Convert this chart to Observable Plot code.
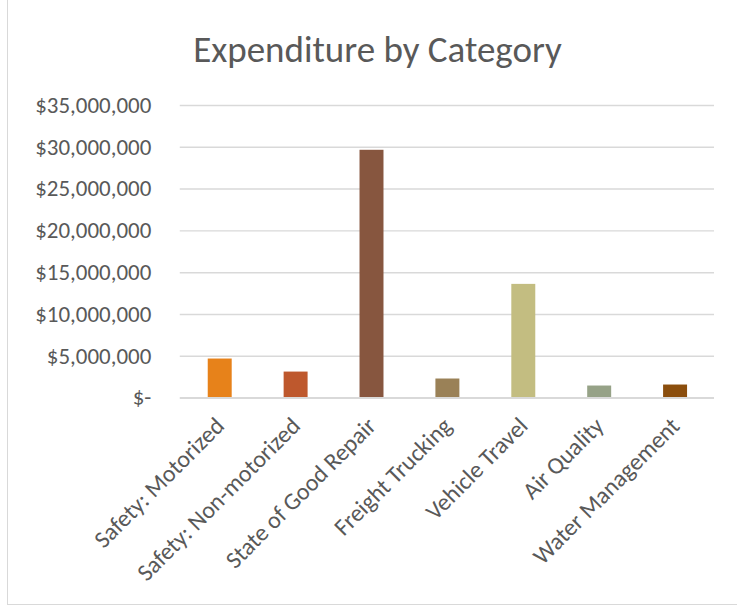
<!DOCTYPE html>
<html>
<head>
<meta charset="utf-8">
<script src="https://cdn.jsdelivr.net/npm/d3@7"></script>
<script src="https://cdn.jsdelivr.net/npm/@observablehq/plot@0.6"></script>
<style>
  html, body { margin: 0; padding: 0; background: #fff; }
  #wrap { position: relative; height: 605px; box-sizing: border-box; border-left: 1.5px solid #d9d9d9; border-bottom: 1.5px solid #d9d9d9; margin-left: 7px; width: 730px; overflow: hidden; }
  #title { height: 90px; line-height: 100px; text-align: center; font-family: Carlito, Lato, "Open Sans", sans-serif; font-size: 37px; color: #595959; padding-left: 10px; box-sizing: border-box; }
</style>
</head>
<body>
<div id="wrap">
  <div id="title">Expenditure by Category</div>
  <div id="chart"></div>
</div>
<script>
const categories = ["Safety: Motorized", "Safety: Non-motorized", "State of Good Repair", "Freight Trucking", "Vehicle Travel", "Air Quality", "Water Management"];
const values = [4670000, 3110000, 29640000, 2280000, 13600000, 1440000, 1560000];
const colors = ["#E7821A", "#BE582D", "#87563F", "#9A8157", "#C3BD81", "#96A287", "#8B4E0D"];
const yTicks = [0, 5000000, 10000000, 15000000, 20000000, 25000000, 30000000, 35000000];

const data = categories.map((c, i) => ({category: c, value: values[i], color: colors[i]}));
const fmt = d => d === 0 ? "$-" : "$" + d3.format(",")(d);

const chart = Plot.plot({
  width: 730,
  height: 515,
  marginLeft: 172,
  marginRight: 23,
  marginTop: 15,
  marginBottom: 207,
  style: {fontFamily: "Carlito, Lato, 'Open Sans', sans-serif", fontSize: "23px", color: "#595959", background: "#fff", overflow: "visible"},
  x: {domain: categories, paddingInner: 0.686, paddingOuter: 0.343, label: null},
  y: {domain: [0, 35000000], label: null},
  marks: [
    Plot.ruleY(yTicks.filter(d => d > 0), {stroke: "#d9d9d9", strokeWidth: 1.5}),
    Plot.barY(data, {x: "category", y: "value", fill: "color"}),
    Plot.ruleY([0], {stroke: "#d9d9d9", strokeWidth: 2}),
    Plot.axisY({ticks: yTicks, tickFormat: fmt, tickSize: 0, tickPadding: 29, fontSize: 23, label: null, fill: "#595959"}),
    Plot.axisX({tickRotate: -45, tickSize: 0, tickPadding: 24, fontSize: 24, label: null, fill: "#595959"})
  ]
});
document.getElementById("chart").appendChild(chart);
</script>
</body>
</html>
